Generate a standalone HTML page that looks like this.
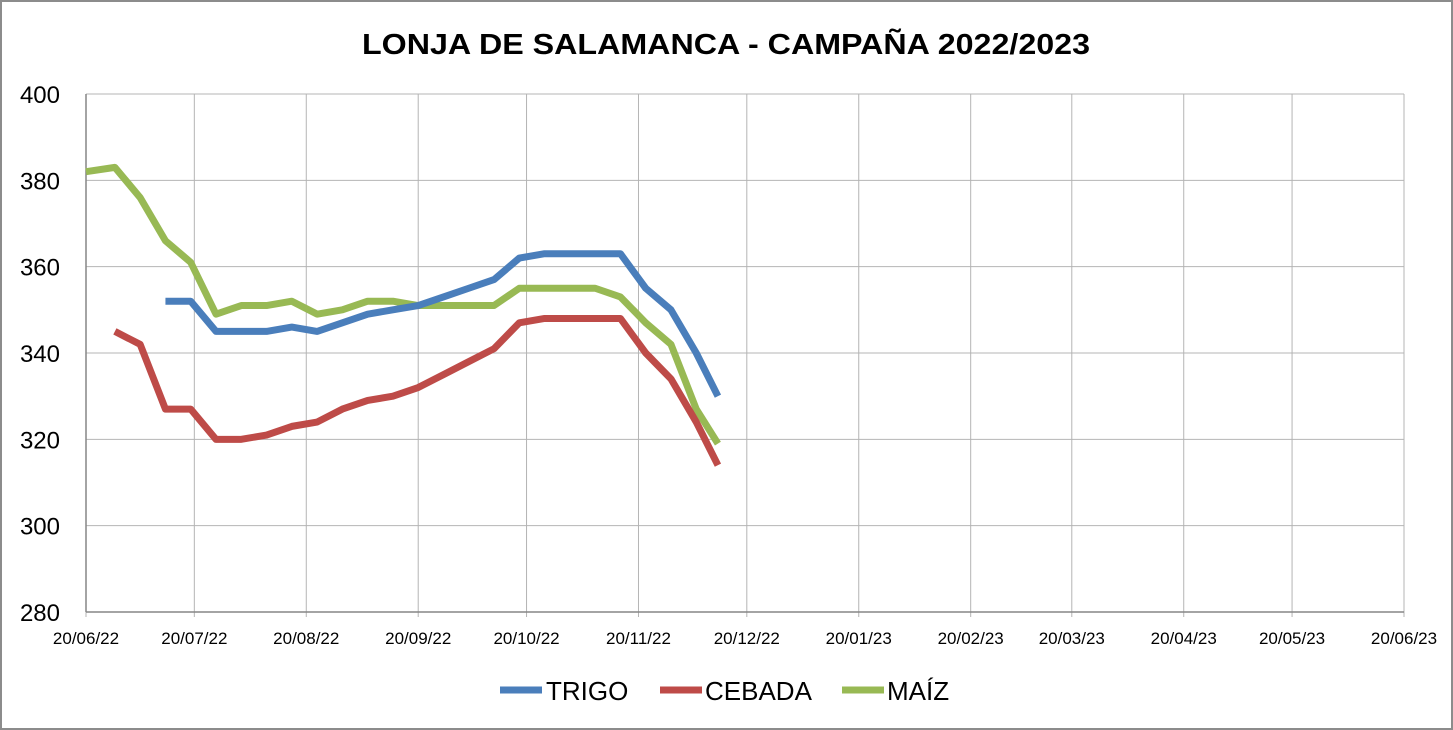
<!DOCTYPE html>
<html><head><meta charset="utf-8"><style>
body{margin:0;background:#fff;}
svg{display:block;font-family:"Liberation Sans","DejaVu Sans",sans-serif;}
</style></head><body>
<svg id="chart" width="1453" height="730">
<rect x="1" y="1" width="1451" height="728" fill="#fff" stroke="#8c8c8c" stroke-width="2"/>
<text x="726" y="54" text-anchor="middle" font-size="29" font-weight="bold" textLength="728" lengthAdjust="spacingAndGlyphs">LONJA DE SALAMANCA - CAMPAÑA 2022/2023</text>
<g id="grid"></g><g id="axes"></g><g id="series"></g>
<g id="legend">
<line x1="500" y1="690" x2="542" y2="690" stroke="#4a7ebb" stroke-width="7"/>
<text x="546" y="700" font-size="26">TRIGO</text>
<line x1="660" y1="690" x2="702" y2="690" stroke="#be4b48" stroke-width="7"/>
<text x="705" y="700" font-size="26">CEBADA</text>
<line x1="842" y1="690" x2="884" y2="690" stroke="#98b954" stroke-width="7"/>
<text x="887" y="700" font-size="26">MAÍZ</text>
</g>
</svg>
<script>
const xTickLabels=["20/06/22","20/07/22","20/08/22","20/09/22","20/10/22","20/11/22","20/12/22","20/01/23","20/02/23","20/03/23","20/04/23","20/05/23","20/06/23"];
const xTickDays=[0,30,61,92,122,153,183,214,245,273,304,334,365];
const yTicks=[280,300,320,340,360,380,400];
const maizDays=[0,8,15,22,29,36,43,50,57,64,71,78,85,92,99,106,113,120,127,134,141,148,155,162,169,175];
const maizValues=[382,383,376,366,361,349,351,351,352,349,350,352,352,351,351,351,351,355,355,355,355,353,347,342,327,319];
const cebadaDays=[8,15,22,29,36,43,50,57,64,71,78,85,92,99,106,113,120,127,134,141,148,155,162,169,175];
const cebadaValues=[345,342,327,327,320,320,321,323,324,327,329,330,332,335,338,341,347,348,348,348,348,340,334,324,314];
const trigoDays=[22,29,36,43,50,57,64,71,78,85,92,99,106,113,120,127,134,141,148,155,162,169,175];
const trigoValues=[352,352,345,345,345,346,345,347,349,350,351,353,355,357,362,363,363,363,363,355,350,340,330];
const NS="http://www.w3.org/2000/svg";
const X0=86,X1=1404,Y0=612,Y1=94;
const xs=d=>X0+(X1-X0)*d/365;
const ys=v=>Y0-(Y0-Y1)*(v-280)/120;
const grid=document.getElementById('grid'),axes=document.getElementById('axes'),series=document.getElementById('series');
function mk(tag,attrs,parent){const e=document.createElementNS(NS,tag);for(const k in attrs)e.setAttribute(k,attrs[k]);parent.appendChild(e);return e;}
yTicks.forEach(v=>{
  const l=mk('line',{x1:X0,x2:X1,y1:ys(v),y2:ys(v),stroke:'#b4b4b4','stroke-width':1},grid);
  
  
  const t=mk('text',{x:60,y:ys(v)+9,'text-anchor':'end','font-size':24},axes);
  t.textContent=v;
  
  
});
xTickDays.forEach((d,i)=>{
  const l=mk('line',{x1:xs(d),x2:xs(d),y1:Y1,y2:Y0+5,stroke:'#b4b4b4','stroke-width':1},grid);
  
  
  const t=mk('text',{x:xs(d),y:644,'text-anchor':'middle','font-size':17},axes);
  t.textContent=xTickLabels[i];
  
  
});
const ax=mk('line',{x1:X0,x2:X1,y1:Y0,y2:Y0,stroke:'#868686','stroke-width':1.5},axes);


const ay=mk('line',{x1:X0,x2:X0,y1:Y1,y2:Y0,stroke:'#868686','stroke-width':1.5},axes);


function draw(days,vals,color,name){
  const p=mk('polyline',{points:days.map((d,i)=>xs(d)+','+ys(vals[i])).join(' '),fill:'none',stroke:color,'stroke-width':7,'stroke-linejoin':'round'},series);
  
  
}
draw(maizDays,maizValues,'#98b954','maiz-line');
draw(cebadaDays,cebadaValues,'#be4b48','cebada-line');
draw(trigoDays,trigoValues,'#4a7ebb','trigo-line');
</script>
</body></html>
